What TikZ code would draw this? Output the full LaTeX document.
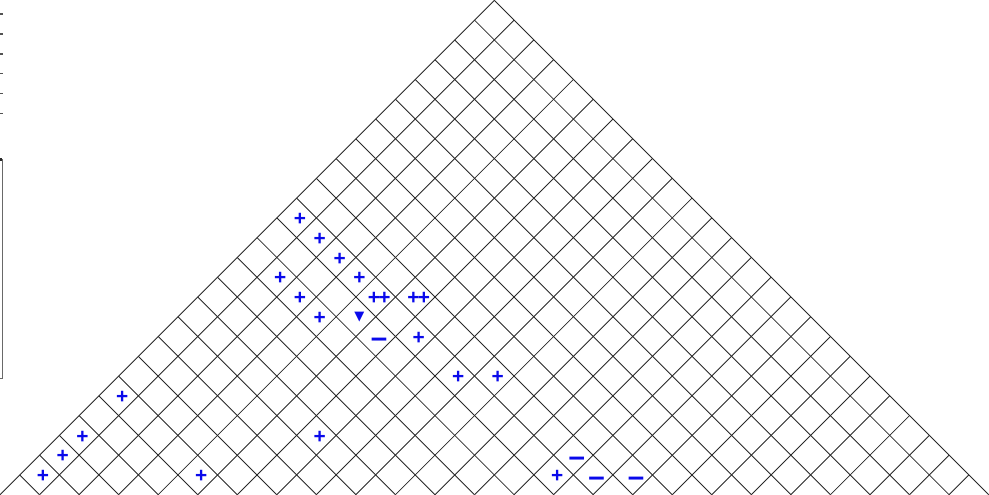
\documentclass[tikz,border=0pt]{standalone}
\usepackage{fontspec}
\newfontfamily\markfont{Liberation Sans}
\newfontfamily\symfont{DejaVu Sans}
\definecolor{GridGray}{RGB}{40,40,40}
\definecolor{MarkBlue}{RGB}{10,10,235}
\usetikzlibrary{positioning}

\begin{document}
\begin{tikzpicture}[x=0.4cm, y=0.4cm,
	grid/.style={GridGray, line width=0.5pt},
	plusmark/.style={text=MarkBlue, inner sep=0pt, xshift=2pt, yshift=-0.9pt,
		font=\markfont\bfseries\fontsize{12}{12}\selectfont},
	minusmark/.style={plusmark, yshift=-3pt, font=\markfont\bfseries\fontsize{17}{17}\selectfont},
	dropmark/.style={plusmark, yshift=0.4pt, font=\symfont\fontsize{7.5}{7.5}\selectfont}]
	\useasboundingbox (-25,0.02) rectangle (25.02,-24.99);
	\clip (-25,0.02) rectangle (25.02,-24.99);
	% restos de la leyenda a la izquierda
	\foreach \y in {0.7,1.7,2.7,3.7,4.72,5.73}
		\draw[GridGray!80, line width=0.9pt] (-25,-\y) -- (-24.85,-\y);
	\draw[GridGray!70, line width=0.6pt] (-25.5,-8.04) rectangle (-24.88,-19.12);
	\draw[GridGray, line width=1.5pt] (-25.5,-8.04) -- (-24.88,-8.04);
	% malla triangular
	\foreach \k in {0,...,25} {
		\draw[grid] (-\k,-\k) -- ({25-2*\k},-25);
		\draw[grid] (\k,-\k) -- ({2*\k-25},-25);
	}
	% marcas en las celdas
	\foreach \u/\v [count=\i] in {-10/11, -9/12, -8/13, -7/14, -11/14, -10/15, -9/16, -4/17,
		-2/19, 0/19, -19/20, -21/22, -22/23, -23/24, -15/24, -9/22, 3/24}
		\node[plusmark] (plus\i) at (\u,-\v) {+};
	\foreach \u/\v [count=\i] in {-6/15, -4/15}
		\node[plusmark] (dplus\i) at (\u,-\v) {+\kern-1pt+};
	\foreach \u/\v [count=\i] in {-6/17, 4/23, 5/24, 7/24}
		\node[minusmark] (minus\i) at (\u,-\v) {–};
	\node[dropmark] (drop) at (-7,-16) {▼};
\end{tikzpicture}
\end{document}
